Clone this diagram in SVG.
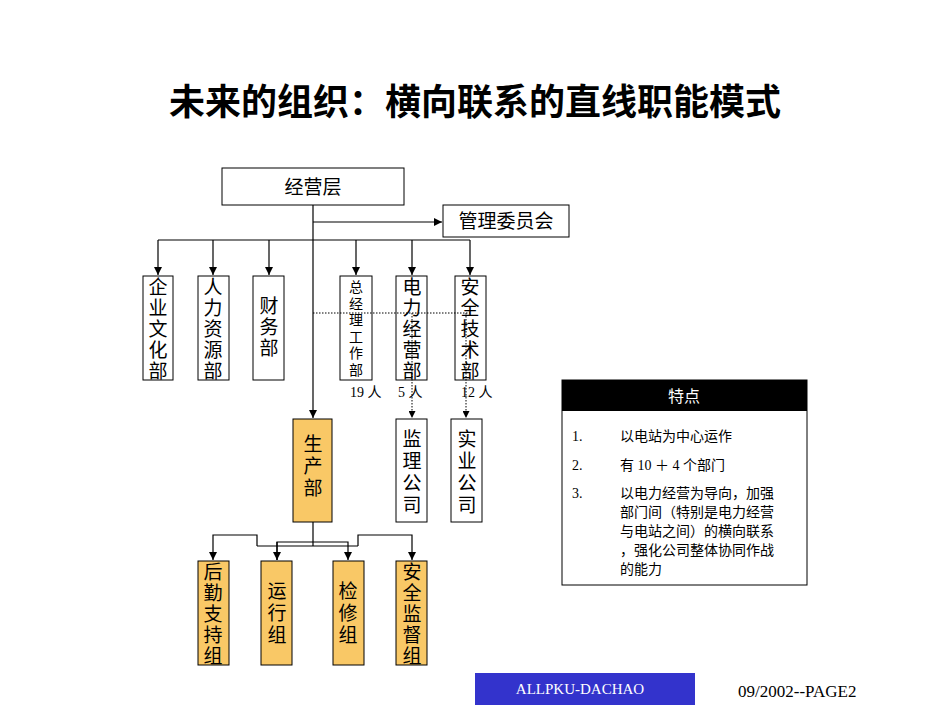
<svg xmlns="http://www.w3.org/2000/svg" width="950" height="713" viewBox="0 0 950 713">
<defs>
<marker id="a" viewBox="0 0 10 10" refX="10" refY="5" markerWidth="7" markerHeight="7" orient="auto"><path d="M0,0L10,5L0,10z" fill="#000"/></marker>
<style>
.b{fill:#fff;stroke:#000;stroke-width:1}
.o{fill:#F9C866;stroke:#000;stroke-width:1}
.t{font-family:"Liberation Serif","Noto Sans CJK SC",serif;font-size:19px;fill:#000;text-anchor:middle}
.sm{font-size:14px}
.s{font-family:"Liberation Serif","Noto Sans CJK SC",serif;font-size:14px;fill:#000}
.c{fill:none;stroke:#000;stroke-width:1.2}
.d{fill:none;stroke:#000;stroke-width:1;stroke-dasharray:1.5,1.5}
</style>
</defs>
<rect width="950" height="713" fill="#fff"/>
<text x="475" y="115" font-family="'Noto Sans CJK SC',sans-serif" font-weight="bold" font-size="36" text-anchor="middle">未来的组织：横向联系的直线职能模式</text>
<g id="connectors">
<path class="c" d="M313,205V418" marker-end="url(#a)"/>
<path class="c" d="M313,222H442" marker-end="url(#a)"/>
<path class="c" d="M158,240H470"/>
<path class="c" d="M158,240V275" marker-end="url(#a)"/>
<path class="c" d="M213,240V275" marker-end="url(#a)"/>
<path class="c" d="M269,240V275" marker-end="url(#a)"/>
<path class="c" d="M356,240V275" marker-end="url(#a)"/>
<path class="c" d="M412,240V275" marker-end="url(#a)"/>
<path class="c" d="M470,240V275" marker-end="url(#a)"/>
<path class="c" d="M313,522V546M257,546H358"/>
<path class="c" d="M257,546V535H213V560" marker-end="url(#a)"/>
<path class="c" d="M277,560V542H348V560" marker-end="url(#a)"/>
<path class="c" d="M277,542V560" marker-end="url(#a)"/>
<path class="c" d="M358,546V535H412V560" marker-end="url(#a)"/>
</g>
<g id="jyc"><rect class="b" x="222" y="168" width="182" height="37"/><text class="t" x="313" y="194">经营层</text></g>
<g id="glwyh"><rect class="b" x="443" y="205" width="126" height="32"/><text class="t" x="506" y="228">管理委员会</text></g>
<g id="qywh"><rect class="b" x="143" y="276" width="30" height="104"/><text class="t" x="158" y="294">企<tspan x="158" dy="21">业</tspan><tspan x="158" dy="21">文</tspan><tspan x="158" dy="21">化</tspan><tspan x="158" dy="21">部</tspan></text></g>
<g id="rlzy"><rect class="b" x="198" y="276" width="31" height="104"/><text class="t" x="213" y="294">人<tspan x="213" dy="21">力</tspan><tspan x="213" dy="21">资</tspan><tspan x="213" dy="21">源</tspan><tspan x="213" dy="21">部</tspan></text></g>
<g id="cwb"><rect class="b" x="253" y="276" width="31" height="104"/><text class="t" x="269" y="313">财<tspan x="269" dy="21">务</tspan><tspan x="269" dy="21">部</tspan></text></g>
<g id="zjl"><rect class="b" x="340" y="276" width="32" height="104"/><text class="t sm" x="356" y="292">总<tspan x="356" dy="16.5">经</tspan><tspan x="356" dy="16.5">理</tspan><tspan x="356" dy="16.5">工</tspan><tspan x="356" dy="16.5">作</tspan><tspan x="356" dy="16.5">部</tspan></text></g>
<g id="dljy"><rect class="b" x="396" y="276" width="31" height="104"/><text class="t" x="412" y="294">电<tspan x="412" dy="21">力</tspan><tspan x="412" dy="21">经</tspan><tspan x="412" dy="21">营</tspan><tspan x="412" dy="21">部</tspan></text></g>
<g id="aqjs"><rect class="b" x="455" y="276" width="31" height="104"/><text class="t" x="470" y="294">安<tspan x="470" dy="21">全</tspan><tspan x="470" dy="21">技</tspan><tspan x="470" dy="21">术</tspan><tspan x="470" dy="21">部</tspan></text></g>
<text class="s" x="350" y="397">19 人</text>
<text class="s" x="398" y="397">5 人</text>
<text class="s" x="461" y="397">12 人</text>
<g id="scb"><rect class="o" x="293" y="419" width="39" height="103"/><text class="t" x="313" y="451">生<tspan x="313" dy="22">产</tspan><tspan x="313" dy="22">部</tspan></text></g>
<g id="jlgs"><rect class="b" x="396" y="419" width="31" height="103"/><text class="t" x="412" y="446">监<tspan x="412" dy="22">理</tspan><tspan x="412" dy="22">公</tspan><tspan x="412" dy="22">司</tspan></text></g>
<g id="sygs"><rect class="b" x="451" y="419" width="31" height="103"/><text class="t" x="467" y="446">实<tspan x="467" dy="22">业</tspan><tspan x="467" dy="22">公</tspan><tspan x="467" dy="22">司</tspan></text></g>
<g id="hq"><rect class="o" x="198" y="561" width="31" height="104"/><text class="t" x="213" y="579">后<tspan x="213" dy="21">勤</tspan><tspan x="213" dy="21">支</tspan><tspan x="213" dy="21">持</tspan><tspan x="213" dy="21">组</tspan></text></g>
<g id="yx"><rect class="o" x="261" y="561" width="31" height="104"/><text class="t" x="277" y="598">运<tspan x="277" dy="22">行</tspan><tspan x="277" dy="22">组</tspan></text></g>
<g id="jx"><rect class="o" x="333" y="561" width="31" height="104"/><text class="t" x="348" y="598">检<tspan x="348" dy="22">修</tspan><tspan x="348" dy="22">组</tspan></text></g>
<g id="aqjd"><rect class="o" x="396" y="561" width="31" height="104"/><text class="t" x="412" y="579">安<tspan x="412" dy="21">全</tspan><tspan x="412" dy="21">监</tspan><tspan x="412" dy="21">督</tspan><tspan x="412" dy="21">组</tspan></text></g>
<g id="dotted-connectors">
<path class="d" d="M313,313H470"/>
<path class="d" d="M412,313V418" marker-end="url(#a)"/>
<path class="d" d="M466,313V418" marker-end="url(#a)"/>
</g>
<g id="features">
<rect class="b" x="562" y="380" width="245" height="205"/>
<rect x="562" y="380" width="245" height="31" fill="#000"/>
<text x="684" y="402" font-family="'Noto Sans CJK SC',sans-serif" font-size="16" fill="#fff" text-anchor="middle">特点</text>
<text class="s" x="572" y="441">1.</text><text class="s" x="620" y="441">以电站为中心运作</text>
<text class="s" x="572" y="470">2.</text><text class="s" x="620" y="470">有 10 ＋ 4 个部门</text>
<text class="s" x="572" y="498">3.</text>
<text class="s" x="620" y="498">以电力经营为导向，加强</text>
<text class="s" x="620" y="517">部门间（特别是电力经营</text>
<text class="s" x="620" y="536">与电站之间）的横向联系</text>
<text class="s" x="620" y="555">，强化公司整体协同作战</text>
<text class="s" x="620" y="574">的能力</text>
</g>
<rect x="475" y="673" width="220" height="32" fill="#3333CC"/>
<text x="580" y="694" font-family="'Liberation Serif',serif" font-size="15" fill="#fff" text-anchor="middle">ALLPKU-DACHAO</text>
<text x="738" y="697" font-family="'Liberation Serif',serif" font-size="17">09/2002--PAGE2</text>
</svg>
